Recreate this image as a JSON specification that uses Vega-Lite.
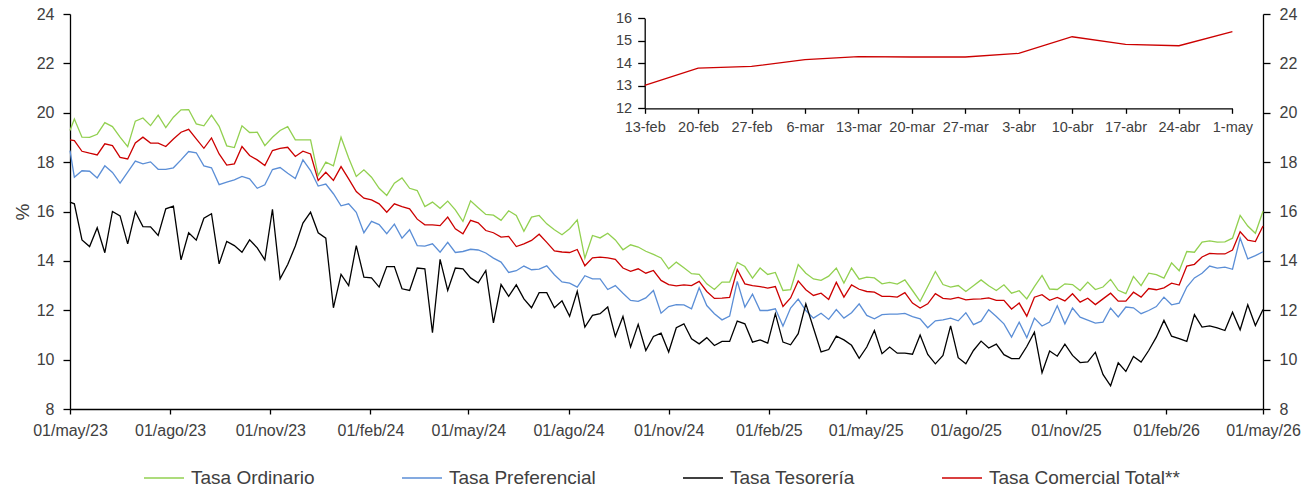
{
  "$schema": "https://vega.github.io/schema/vega-lite/v6.json",
  "width": 1193,
  "height": 395,
  "autosize": {"type": "none"},
  "padding": {"left": 70, "top": 14, "right": 49, "bottom": 78},
  "background": "white",
  "data": {
    "values": [
      {"fecha": "2023-05-01", "ord": 19.28, "pref": 18.47, "tes": 16.38, "com": 18.90},
      {"fecha": "2023-05-05", "ord": 19.75, "pref": 17.39, "tes": 16.31, "com": 18.87},
      {"fecha": "2023-05-12", "ord": 19.01, "pref": 17.65, "tes": 14.85, "com": 18.44},
      {"fecha": "2023-05-19", "ord": 19.00, "pref": 17.63, "tes": 14.58, "com": 18.36},
      {"fecha": "2023-05-26", "ord": 19.13, "pref": 17.36, "tes": 15.34, "com": 18.29},
      {"fecha": "2023-06-02", "ord": 19.60, "pref": 17.85, "tes": 14.33, "com": 18.74},
      {"fecha": "2023-06-09", "ord": 19.44, "pref": 17.58, "tes": 16.00, "com": 18.67},
      {"fecha": "2023-06-16", "ord": 19.01, "pref": 17.15, "tes": 15.82, "com": 18.19},
      {"fecha": "2023-06-23", "ord": 18.63, "pref": 17.59, "tes": 14.69, "com": 18.13},
      {"fecha": "2023-06-30", "ord": 19.66, "pref": 18.04, "tes": 15.99, "com": 18.78},
      {"fecha": "2023-07-07", "ord": 19.79, "pref": 17.93, "tes": 15.39, "com": 19.01},
      {"fecha": "2023-07-14", "ord": 19.48, "pref": 18.01, "tes": 15.38, "com": 18.77},
      {"fecha": "2023-07-21", "ord": 19.90, "pref": 17.71, "tes": 15.03, "com": 18.77},
      {"fecha": "2023-07-28", "ord": 19.40, "pref": 17.71, "tes": 16.11, "com": 18.63},
      {"fecha": "2023-08-04", "ord": 19.82, "pref": 17.77, "tes": 16.22, "com": 18.94},
      {"fecha": "2023-08-11", "ord": 20.12, "pref": 18.09, "tes": 14.04, "com": 19.21},
      {"fecha": "2023-08-18", "ord": 20.13, "pref": 18.43, "tes": 15.14, "com": 19.33},
      {"fecha": "2023-08-25", "ord": 19.55, "pref": 18.38, "tes": 14.84, "com": 18.94},
      {"fecha": "2023-09-01", "ord": 19.47, "pref": 17.85, "tes": 15.73, "com": 18.56},
      {"fecha": "2023-09-08", "ord": 19.90, "pref": 17.77, "tes": 15.91, "com": 18.98},
      {"fecha": "2023-09-15", "ord": 19.45, "pref": 17.09, "tes": 13.88, "com": 18.33},
      {"fecha": "2023-09-22", "ord": 18.66, "pref": 17.19, "tes": 14.79, "com": 17.88},
      {"fecha": "2023-09-29", "ord": 18.59, "pref": 17.28, "tes": 14.62, "com": 17.93},
      {"fecha": "2023-10-06", "ord": 19.47, "pref": 17.42, "tes": 14.35, "com": 18.63},
      {"fecha": "2023-10-13", "ord": 19.20, "pref": 17.32, "tes": 14.85, "com": 18.27},
      {"fecha": "2023-10-20", "ord": 19.21, "pref": 16.94, "tes": 14.53, "com": 18.09},
      {"fecha": "2023-10-27", "ord": 18.67, "pref": 17.08, "tes": 14.04, "com": 17.86},
      {"fecha": "2023-11-03", "ord": 19.01, "pref": 17.70, "tes": 16.09, "com": 18.47},
      {"fecha": "2023-11-10", "ord": 19.28, "pref": 17.78, "tes": 13.27, "com": 18.56},
      {"fecha": "2023-11-17", "ord": 19.44, "pref": 17.55, "tes": 13.85, "com": 18.60},
      {"fecha": "2023-11-24", "ord": 18.90, "pref": 17.34, "tes": 14.60, "com": 18.23},
      {"fecha": "2023-12-01", "ord": 18.90, "pref": 18.09, "tes": 15.53, "com": 18.44},
      {"fecha": "2023-12-08", "ord": 18.90, "pref": 17.66, "tes": 15.97, "com": 18.33},
      {"fecha": "2023-12-15", "ord": 17.46, "pref": 17.03, "tes": 15.14, "com": 17.26},
      {"fecha": "2023-12-22", "ord": 18.00, "pref": 17.11, "tes": 14.92, "com": 17.59},
      {"fecha": "2023-12-29", "ord": 17.85, "pref": 16.72, "tes": 12.10, "com": 17.26},
      {"fecha": "2024-01-05", "ord": 19.01, "pref": 16.23, "tes": 13.45, "com": 17.82},
      {"fecha": "2024-01-12", "ord": 18.17, "pref": 16.31, "tes": 13.00, "com": 17.32},
      {"fecha": "2024-01-19", "ord": 17.42, "pref": 15.97, "tes": 14.62, "com": 16.81},
      {"fecha": "2024-01-26", "ord": 17.69, "pref": 15.14, "tes": 13.34, "com": 16.54},
      {"fecha": "2024-02-02", "ord": 17.39, "pref": 15.60, "tes": 13.31, "com": 16.47},
      {"fecha": "2024-02-09", "ord": 16.94, "pref": 15.47, "tes": 12.94, "com": 16.31},
      {"fecha": "2024-02-16", "ord": 16.65, "pref": 15.10, "tes": 13.77, "com": 15.97},
      {"fecha": "2024-02-23", "ord": 17.15, "pref": 15.49, "tes": 13.77, "com": 16.31},
      {"fecha": "2024-03-01", "ord": 17.36, "pref": 14.92, "tes": 12.87, "com": 16.20},
      {"fecha": "2024-03-08", "ord": 16.94, "pref": 15.26, "tes": 12.80, "com": 16.11},
      {"fecha": "2024-03-15", "ord": 16.85, "pref": 14.62, "tes": 13.71, "com": 15.69},
      {"fecha": "2024-03-22", "ord": 16.20, "pref": 14.60, "tes": 13.68, "com": 15.46},
      {"fecha": "2024-03-29", "ord": 16.38, "pref": 14.69, "tes": 11.09, "com": 15.46},
      {"fecha": "2024-04-05", "ord": 16.13, "pref": 14.35, "tes": 14.06, "com": 15.43},
      {"fecha": "2024-04-12", "ord": 16.42, "pref": 14.75, "tes": 12.80, "com": 15.77},
      {"fecha": "2024-04-19", "ord": 16.07, "pref": 14.34, "tes": 13.71, "com": 15.30},
      {"fecha": "2024-04-26", "ord": 15.60, "pref": 14.38, "tes": 13.68, "com": 15.10},
      {"fecha": "2024-05-03", "ord": 16.43, "pref": 14.47, "tes": 13.31, "com": 15.64},
      {"fecha": "2024-05-10", "ord": 16.15, "pref": 14.44, "tes": 13.11, "com": 15.54},
      {"fecha": "2024-05-17", "ord": 15.88, "pref": 14.32, "tes": 13.61, "com": 15.23},
      {"fecha": "2024-05-24", "ord": 15.85, "pref": 14.11, "tes": 11.49, "com": 15.14},
      {"fecha": "2024-05-31", "ord": 15.64, "pref": 13.95, "tes": 13.04, "com": 14.96},
      {"fecha": "2024-06-07", "ord": 16.03, "pref": 13.53, "tes": 12.56, "com": 14.99},
      {"fecha": "2024-06-14", "ord": 15.84, "pref": 13.60, "tes": 13.03, "com": 14.58},
      {"fecha": "2024-06-21", "ord": 15.20, "pref": 13.79, "tes": 12.46, "com": 14.69},
      {"fecha": "2024-06-28", "ord": 15.77, "pref": 13.64, "tes": 12.10, "com": 14.83},
      {"fecha": "2024-07-05", "ord": 15.84, "pref": 13.67, "tes": 12.71, "com": 15.08},
      {"fecha": "2024-07-12", "ord": 15.50, "pref": 13.80, "tes": 12.71, "com": 14.75},
      {"fecha": "2024-07-19", "ord": 15.26, "pref": 13.44, "tes": 12.10, "com": 14.40},
      {"fecha": "2024-07-26", "ord": 15.06, "pref": 13.15, "tes": 12.38, "com": 14.36},
      {"fecha": "2024-08-02", "ord": 15.30, "pref": 13.10, "tes": 11.76, "com": 14.34},
      {"fecha": "2024-08-09", "ord": 15.66, "pref": 12.94, "tes": 12.77, "com": 14.46},
      {"fecha": "2024-08-16", "ord": 14.11, "pref": 13.40, "tes": 11.32, "com": 13.80},
      {"fecha": "2024-08-23", "ord": 15.03, "pref": 13.27, "tes": 11.79, "com": 14.12},
      {"fecha": "2024-08-30", "ord": 14.93, "pref": 13.27, "tes": 11.86, "com": 14.15},
      {"fecha": "2024-09-06", "ord": 15.12, "pref": 12.84, "tes": 12.13, "com": 14.12},
      {"fecha": "2024-09-13", "ord": 14.85, "pref": 13.00, "tes": 10.94, "com": 14.06},
      {"fecha": "2024-09-20", "ord": 14.45, "pref": 12.69, "tes": 11.75, "com": 13.71},
      {"fecha": "2024-09-27", "ord": 14.65, "pref": 12.40, "tes": 10.51, "com": 13.58},
      {"fecha": "2024-10-04", "ord": 14.56, "pref": 12.36, "tes": 11.43, "com": 13.68},
      {"fecha": "2024-10-11", "ord": 14.39, "pref": 12.50, "tes": 10.37, "com": 13.50},
      {"fecha": "2024-10-18", "ord": 14.26, "pref": 12.80, "tes": 10.94, "com": 13.61},
      {"fecha": "2024-10-25", "ord": 14.12, "pref": 11.88, "tes": 11.07, "com": 13.21},
      {"fecha": "2024-11-01", "ord": 13.68, "pref": 12.15, "tes": 10.31, "com": 13.04},
      {"fecha": "2024-11-08", "ord": 13.95, "pref": 12.23, "tes": 11.29, "com": 12.99},
      {"fecha": "2024-11-15", "ord": 13.72, "pref": 12.22, "tes": 11.45, "com": 13.03},
      {"fecha": "2024-11-22", "ord": 13.48, "pref": 12.06, "tes": 10.84, "com": 13.00},
      {"fecha": "2024-11-29", "ord": 13.45, "pref": 12.91, "tes": 10.64, "com": 13.17},
      {"fecha": "2024-12-06", "ord": 13.07, "pref": 12.19, "tes": 10.89, "com": 12.76},
      {"fecha": "2024-12-13", "ord": 12.84, "pref": 11.86, "tes": 10.57, "com": 12.48},
      {"fecha": "2024-12-20", "ord": 13.14, "pref": 11.61, "tes": 10.74, "com": 12.49},
      {"fecha": "2024-12-27", "ord": 13.14, "pref": 11.76, "tes": 10.74, "com": 12.52},
      {"fecha": "2025-01-03", "ord": 13.94, "pref": 13.17, "tes": 11.56, "com": 13.65},
      {"fecha": "2025-01-10", "ord": 13.77, "pref": 12.13, "tes": 11.45, "com": 13.07},
      {"fecha": "2025-01-17", "ord": 13.30, "pref": 12.65, "tes": 10.71, "com": 13.00},
      {"fecha": "2025-01-24", "ord": 13.71, "pref": 11.99, "tes": 10.80, "com": 12.96},
      {"fecha": "2025-01-31", "ord": 13.45, "pref": 11.99, "tes": 10.67, "com": 12.90},
      {"fecha": "2025-02-07", "ord": 13.53, "pref": 12.06, "tes": 11.86, "com": 12.96},
      {"fecha": "2025-02-14", "ord": 12.80, "pref": 11.36, "tes": 10.71, "com": 12.15},
      {"fecha": "2025-02-21", "ord": 12.83, "pref": 12.09, "tes": 10.60, "com": 12.50},
      {"fecha": "2025-02-28", "ord": 13.85, "pref": 12.45, "tes": 11.05, "com": 13.19},
      {"fecha": "2025-03-07", "ord": 13.50, "pref": 11.99, "tes": 12.26, "com": 12.83},
      {"fecha": "2025-03-14", "ord": 13.27, "pref": 11.68, "tes": 11.28, "com": 12.60},
      {"fecha": "2025-03-21", "ord": 13.21, "pref": 11.88, "tes": 10.31, "com": 12.69},
      {"fecha": "2025-03-28", "ord": 13.38, "pref": 11.63, "tes": 10.41, "com": 12.44},
      {"fecha": "2025-04-04", "ord": 13.71, "pref": 12.03, "tes": 10.95, "com": 13.13},
      {"fecha": "2025-04-11", "ord": 13.10, "pref": 11.68, "tes": 10.80, "com": 12.53},
      {"fecha": "2025-04-18", "ord": 13.71, "pref": 11.90, "tes": 10.58, "com": 13.03},
      {"fecha": "2025-04-25", "ord": 13.26, "pref": 12.26, "tes": 10.05, "com": 12.85},
      {"fecha": "2025-05-02", "ord": 13.34, "pref": 11.79, "tes": 10.51, "com": 12.76},
      {"fecha": "2025-05-09", "ord": 13.31, "pref": 11.65, "tes": 11.18, "com": 12.73},
      {"fecha": "2025-05-16", "ord": 13.07, "pref": 11.82, "tes": 10.24, "com": 12.56},
      {"fecha": "2025-05-23", "ord": 13.13, "pref": 11.84, "tes": 10.51, "com": 12.56},
      {"fecha": "2025-05-30", "ord": 13.06, "pref": 11.84, "tes": 10.26, "com": 12.53},
      {"fecha": "2025-06-06", "ord": 13.23, "pref": 11.87, "tes": 10.26, "com": 12.71},
      {"fecha": "2025-06-13", "ord": 12.80, "pref": 11.74, "tes": 10.22, "com": 12.29},
      {"fecha": "2025-06-20", "ord": 12.36, "pref": 11.65, "tes": 11.00, "com": 12.09},
      {"fecha": "2025-06-27", "ord": 12.96, "pref": 11.29, "tes": 10.21, "com": 12.26},
      {"fecha": "2025-07-04", "ord": 13.57, "pref": 11.57, "tes": 9.83, "com": 12.67},
      {"fecha": "2025-07-11", "ord": 13.04, "pref": 11.61, "tes": 10.17, "com": 12.48},
      {"fecha": "2025-07-18", "ord": 12.94, "pref": 11.68, "tes": 11.37, "com": 12.45},
      {"fecha": "2025-07-25", "ord": 13.00, "pref": 11.57, "tes": 10.08, "com": 12.52},
      {"fecha": "2025-08-01", "ord": 12.76, "pref": 11.90, "tes": 9.83, "com": 12.42},
      {"fecha": "2025-08-08", "ord": 12.99, "pref": 11.42, "tes": 10.37, "com": 12.45},
      {"fecha": "2025-08-15", "ord": 13.23, "pref": 11.56, "tes": 10.75, "com": 12.46},
      {"fecha": "2025-08-22", "ord": 12.99, "pref": 12.02, "tes": 10.47, "com": 12.50},
      {"fecha": "2025-08-29", "ord": 12.80, "pref": 11.75, "tes": 10.63, "com": 12.40},
      {"fecha": "2025-09-05", "ord": 13.03, "pref": 11.45, "tes": 10.20, "com": 12.40},
      {"fecha": "2025-09-12", "ord": 12.69, "pref": 10.91, "tes": 10.04, "com": 12.05},
      {"fecha": "2025-09-19", "ord": 12.79, "pref": 11.52, "tes": 10.04, "com": 12.29},
      {"fecha": "2025-09-26", "ord": 12.46, "pref": 10.89, "tes": 10.53, "com": 11.76},
      {"fecha": "2025-10-03", "ord": 12.96, "pref": 11.68, "tes": 11.11, "com": 12.53},
      {"fecha": "2025-10-10", "ord": 13.41, "pref": 11.36, "tes": 9.47, "com": 12.63},
      {"fecha": "2025-10-17", "ord": 12.86, "pref": 11.52, "tes": 10.35, "com": 12.40},
      {"fecha": "2025-10-24", "ord": 12.84, "pref": 12.18, "tes": 10.14, "com": 12.52},
      {"fecha": "2025-10-31", "ord": 13.07, "pref": 11.45, "tes": 10.63, "com": 12.38},
      {"fecha": "2025-11-07", "ord": 13.04, "pref": 12.09, "tes": 10.17, "com": 12.67},
      {"fecha": "2025-11-14", "ord": 12.80, "pref": 11.72, "tes": 9.88, "com": 12.33},
      {"fecha": "2025-11-21", "ord": 13.14, "pref": 11.60, "tes": 9.91, "com": 12.49},
      {"fecha": "2025-11-28", "ord": 12.84, "pref": 11.48, "tes": 10.30, "com": 12.23},
      {"fecha": "2025-12-05", "ord": 12.94, "pref": 11.52, "tes": 9.40, "com": 12.46},
      {"fecha": "2025-12-12", "ord": 13.25, "pref": 12.09, "tes": 8.94, "com": 12.69},
      {"fecha": "2025-12-19", "ord": 12.81, "pref": 11.73, "tes": 9.87, "com": 12.37},
      {"fecha": "2025-12-26", "ord": 12.67, "pref": 12.13, "tes": 9.52, "com": 12.37},
      {"fecha": "2026-01-02", "ord": 13.37, "pref": 12.10, "tes": 10.13, "com": 12.73},
      {"fecha": "2026-01-09", "ord": 13.00, "pref": 11.86, "tes": 9.90, "com": 12.53},
      {"fecha": "2026-01-16", "ord": 13.50, "pref": 11.99, "tes": 10.37, "com": 12.88},
      {"fecha": "2026-01-23", "ord": 13.44, "pref": 12.15, "tes": 10.91, "com": 12.83},
      {"fecha": "2026-01-30", "ord": 13.30, "pref": 12.53, "tes": 11.59, "com": 12.91},
      {"fecha": "2026-02-06", "ord": 13.92, "pref": 12.22, "tes": 10.95, "com": 13.10},
      {"fecha": "2026-02-13", "ord": 13.60, "pref": 12.29, "tes": 10.85, "com": 13.02},
      {"fecha": "2026-02-20", "ord": 14.38, "pref": 12.94, "tes": 10.74, "com": 13.79},
      {"fecha": "2026-02-27", "ord": 14.35, "pref": 13.31, "tes": 11.82, "com": 13.86},
      {"fecha": "2026-03-06", "ord": 14.76, "pref": 13.50, "tes": 11.32, "com": 14.16},
      {"fecha": "2026-03-13", "ord": 14.81, "pref": 13.79, "tes": 11.37, "com": 14.30},
      {"fecha": "2026-03-20", "ord": 14.76, "pref": 13.71, "tes": 11.29, "com": 14.28},
      {"fecha": "2026-03-27", "ord": 14.77, "pref": 13.75, "tes": 11.18, "com": 14.28},
      {"fecha": "2026-04-03", "ord": 14.92, "pref": 13.66, "tes": 11.92, "com": 14.44},
      {"fecha": "2026-04-10", "ord": 15.84, "pref": 14.93, "tes": 11.21, "com": 15.18},
      {"fecha": "2026-04-17", "ord": 15.41, "pref": 14.08, "tes": 12.22, "com": 14.84},
      {"fecha": "2026-04-24", "ord": 15.12, "pref": 14.21, "tes": 11.38, "com": 14.78},
      {"fecha": "2026-05-01", "ord": 16.01, "pref": 14.37, "tes": 12.03, "com": 15.41}
    ]
  },
  "layer": [
    {
      "transform": [{"fold": ["ord", "pref", "tes", "com"], "as": ["serie", "tasa"]}],
      "mark": {"type": "line", "strokeWidth": 1.3},
      "encoding": {
        "x": {
          "field": "fecha",
          "type": "temporal",
          "scale": {
            "type": "utc",
            "domain": [
              {"year": 2023, "month": 5, "date": 1, "utc": true},
              {"year": 2026, "month": 5, "date": 1, "utc": true}
            ]
          },
          "axis": {
            "title": null,
            "values": [
              {"year": 2023, "month": 5, "date": 1, "utc": true},
              {"year": 2023, "month": 8, "date": 1, "utc": true},
              {"year": 2023, "month": 11, "date": 1, "utc": true},
              {"year": 2024, "month": 2, "date": 1, "utc": true},
              {"year": 2024, "month": 5, "date": 1, "utc": true},
              {"year": 2024, "month": 8, "date": 1, "utc": true},
              {"year": 2024, "month": 11, "date": 1, "utc": true},
              {"year": 2025, "month": 2, "date": 1, "utc": true},
              {"year": 2025, "month": 5, "date": 1, "utc": true},
              {"year": 2025, "month": 8, "date": 1, "utc": true},
              {"year": 2025, "month": 11, "date": 1, "utc": true},
              {"year": 2026, "month": 2, "date": 1, "utc": true},
              {"year": 2026, "month": 5, "date": 1, "utc": true}
            ],
            "labelExpr": "utcFormat(datum.value, '%d') + '/' + ['ene','feb','mar','abr','may','jun','jul','ago','sep','oct','nov','dic'][utcmonth(datum.value)] + '/' + utcFormat(datum.value, '%y')",
            "labelFlush": false,
            "labelOverlap": false,
            "tickSize": 5,
            "labelPadding": 8
          }
        },
        "y": {
          "field": "tasa",
          "type": "quantitative",
          "scale": {"domain": [8, 24], "nice": false, "zero": false},
          "axis": {
            "title": "%",
            "values": [8, 10, 12, 14, 16, 18, 20, 22, 24],
            "tickSize": 7,
            "labelPadding": 9,
            "titleFontSize": 19,
            "titlePadding": 4
          }
        },
        "color": {
          "field": "serie",
          "type": "nominal",
          "scale": {
            "domain": ["ord", "pref", "tes", "com"],
            "range": ["#92D050", "#5B8ED6", "#000000", "#CC0000"]
          },
          "legend": {
            "title": null,
            "orient": "none",
            "legendX": 73,
            "legendY": 443,
            "direction": "horizontal",
            "symbolType": "stroke",
            "symbolSize": 1600,
            "symbolStrokeWidth": 1.3,
            "labelFontSize": 19,
            "labelColor": "#404040",
            "labelFont": "Liberation Sans",
            "labelOffset": 6,
            "labelLimit": 320,
            "columnPadding": 84,
            "labelExpr": "datum.value == 'ord' ? 'Tasa Ordinario' : datum.value == 'pref' ? 'Tasa Preferencial' : datum.value == 'tes' ? 'Tasa Tesorería' : 'Tasa Comercial Total**'"
          }
        }
      }
    },
    {
      "data": {"values": [{"v": 8}, {"v": 24}]},
      "mark": {"type": "rule", "strokeOpacity": 0},
      "encoding": {
        "y": {
          "field": "v",
          "type": "quantitative",
          "scale": {"domain": [8, 24], "nice": false, "zero": false},
          "axis": {
            "orient": "right",
            "title": null,
            "values": [8, 10, 12, 14, 16, 18, 20, 22, 24],
            "tickSize": 7,
            "labelPadding": 9
          }
        }
      }
    },
    {
      "transform": [{"filter": "time(datum.fecha) >= utc(2026, 1, 13)"}],
      "mark": {"type": "line", "color": "#CC0000", "strokeWidth": 1.3},
      "encoding": {
        "x": {
          "field": "fecha",
          "type": "temporal",
          "scale": {
            "type": "utc",
            "domain": [
              {"year": 2026, "month": 2, "date": 13, "utc": true},
              {"year": 2026, "month": 5, "date": 1, "utc": true}
            ],
            "range": [574.7, 1162.4]
          },
          "axis": {
            "orient": "bottom",
            "offset": -300.7,
            "title": null,
            "values": [
              {"year": 2026, "month": 2, "date": 13, "utc": true},
              {"year": 2026, "month": 2, "date": 20, "utc": true},
              {"year": 2026, "month": 2, "date": 27, "utc": true},
              {"year": 2026, "month": 3, "date": 6, "utc": true},
              {"year": 2026, "month": 3, "date": 13, "utc": true},
              {"year": 2026, "month": 3, "date": 20, "utc": true},
              {"year": 2026, "month": 3, "date": 27, "utc": true},
              {"year": 2026, "month": 4, "date": 3, "utc": true},
              {"year": 2026, "month": 4, "date": 10, "utc": true},
              {"year": 2026, "month": 4, "date": 17, "utc": true},
              {"year": 2026, "month": 4, "date": 24, "utc": true},
              {"year": 2026, "month": 5, "date": 1, "utc": true}
            ],
            "labelExpr": "utcFormat(datum.value, '%-d') + '-' + ['ene','feb','mar','abr','may','jun','jul','ago','sep','oct','nov','dic'][utcmonth(datum.value)]",
            "labelFlush": false,
            "labelOverlap": false,
            "labelFontSize": 14.5,
            "tickSize": 5,
            "labelPadding": 7
          }
        },
        "y": {
          "field": "com",
          "type": "quantitative",
          "scale": {"domain": [12, 16], "nice": false, "zero": false, "range": [94.3, 4.3]},
          "axis": {
            "orient": "left",
            "offset": -574.7,
            "title": null,
            "values": [12, 13, 14, 15, 16],
            "labelFontSize": 14.5,
            "tickSize": 7,
            "labelPadding": 6
          }
        }
      }
    }
  ],
  "resolve": {"scale": {"x": "independent", "y": "independent"}},
  "config": {
    "view": {"stroke": null},
    "font": "Liberation Sans",
    "axis": {
      "grid": false,
      "domainColor": "#000000",
      "domainWidth": 1.3,
      "tickColor": "#000000",
      "tickWidth": 1.3,
      "labelColor": "#404040",
      "labelFont": "Liberation Sans",
      "labelFontSize": 16,
      "titleColor": "#404040",
      "titleFont": "Liberation Sans",
      "titleFontWeight": "normal"
    }
  }
}
